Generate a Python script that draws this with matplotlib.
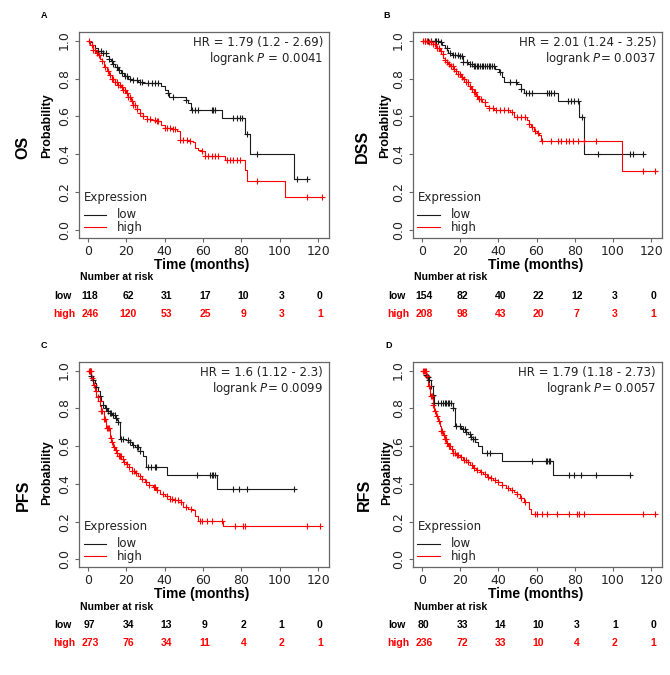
import numpy as np
import matplotlib
matplotlib.use("Agg")
import matplotlib.pyplot as plt
from matplotlib.transforms import blended_transform_factory

plt.rcParams['mathtext.fontset'] = 'dejavusans'

W, H = 670, 675

# ---------------- data ----------------
panel_letters = ["A", "B", "C", "D"]
endpoints = ["OS", "DSS", "PFS", "RFS"]
hr_lines = ["HR = 1.79 (1.2 - 2.69)", "HR = 2.01 (1.24 - 3.25)",
            "HR = 1.6 (1.12 - 2.3)", "HR = 1.79 (1.18 - 2.73)"]
p_lines = ["logrank $P$ = 0.0041", "logrank $P$= 0.0037",
           "logrank $P$= 0.0099", "logrank $P$= 0.0057"]
risk_times = [0, 20, 40, 60, 80, 100, 120]
x_ticks = [0, 20, 40, 60, 80, 100, 120]
y_ticks = [0.0, 0.2, 0.4, 0.6, 0.8, 1.0]
group_labels = ["low", "high"]

# Panel A (OS)
a_low_t = [0, 1, 2, 3.5, 5, 8, 9.5, 11, 12, 13, 14, 15.5, 17, 19, 21, 23, 26, 28.5, 38, 40, 41.5, 42.5,
           51, 52, 53.5, 70, 81.7, 84.5, 107.5, 114]
a_low_s = [1.0, 0.99, 0.975, 0.96, 0.945, 0.935, 0.92, 0.905, 0.89, 0.875, 0.86, 0.845, 0.83, 0.815, 0.80,
           0.79, 0.78, 0.775, 0.758, 0.742, 0.726, 0.705, 0.688, 0.67, 0.635, 0.59, 0.51, 0.405, 0.27, 0.27]
a_low_c = [5.4, 6.6, 8, 9.4, 11.1, 12.3, 13.2, 15, 16.3, 17.6, 19.3, 20.2, 21.9, 23.7, 25.4, 27.1, 28, 31.5,
           33.2, 34.9, 36.7, 41.9, 44.5, 51.1, 54.1, 55.8, 57.6, 64.5, 65.4, 66.3, 75.8, 77.6, 79.3, 80.2, 83,
           88, 108.9, 114]
a_high_t = [0, 1, 2.8, 4, 5.4, 6.2, 7.1, 8.5, 9.7, 11, 12.3, 14, 15.8, 17, 18.4, 19.7, 21, 22.3, 23.7, 25.4,
            27.1, 28.9, 30.6, 33, 35.8, 38, 40.2, 44, 46.3, 48, 52, 55, 55.8, 57.5, 59.3, 61, 71.5, 81.9, 82.8,
            102.8, 122]
a_high_s = [1.0, 0.977, 0.95, 0.937, 0.925, 0.905, 0.89, 0.862, 0.837, 0.818, 0.80, 0.783, 0.767, 0.753, 0.74,
            0.722, 0.705, 0.683, 0.66, 0.638, 0.617, 0.6, 0.588, 0.58, 0.574, 0.557, 0.54, 0.532, 0.525, 0.477,
            0.472, 0.468, 0.433, 0.425, 0.416, 0.39, 0.372, 0.32, 0.258, 0.175, 0.175]
a_high_c = [0.7, 1.9, 2.8, 3.7, 4.9, 5.9, 7.1, 8.9, 10.6, 11.5, 12.3, 13.2, 14.1, 15, 15.8, 16.7, 17.6, 18.4,
            19.3, 20.2, 21, 21.9, 22.8, 23.7, 24.5, 25.4, 27.1, 28.9, 30.6, 32.3, 35, 35.8, 36.7, 40.2, 41.4,
            42.8, 44.2, 45.4, 48, 49.7, 51.5, 53.2, 59.3, 61, 62.8, 64.5, 66.3, 68, 72.3, 74.1, 75.8, 77.6, 79.3,
            88, 114.4, 122]
a_risk_low = [118, 62, 31, 17, 10, 3, 0]
a_risk_high = [246, 120, 53, 25, 9, 3, 1]

# Panel B (DSS)
b_low_t = [0, 9.3, 10.5, 12, 13, 13.7, 15.5, 19.9, 21.7, 24.3, 27, 38.4, 40.2, 41.9, 42.8, 49.9, 51.6, 53.4,
           71.4, 82.1, 85.1, 115.6]
b_low_s = [1.0, 0.99, 0.975, 0.963, 0.95, 0.937, 0.923, 0.916, 0.885, 0.876, 0.867, 0.852, 0.836, 0.806, 0.78,
           0.771, 0.745, 0.724, 0.68, 0.596, 0.40, 0.40]
b_low_c = [1.4, 3.2, 4.9, 6.7, 7.6, 8.5, 10.2, 12.9, 14.6, 16.4, 17.3, 19, 19.9, 20.8, 21.7, 23.4, 25.2, 26.1,
           27, 27.8, 28.7, 29.6, 30.5, 31.4, 32.2, 33.1, 34, 34.9, 35.8, 36.7, 37.5, 41.1, 46.3, 49, 51.6, 54.3,
           56, 57.8, 65.7, 66.6, 67.5, 69.3, 76.3, 78.1, 79.8, 81.6, 84, 92.2, 108.9, 110.7, 115.6]
b_high_t = [0, 3.2, 5.8, 7.6, 9.3, 10.2, 11.1, 12, 12.9, 13.8, 14.6, 16.4, 17.7, 19, 20.3, 21.7, 23, 24.3, 25.6,
            27, 28.3, 29.6, 31.3, 33.1, 35, 37.5, 46.3, 48.1, 55.2, 56, 57.3, 58.7, 60, 61.3, 62.2, 104.5, 123]
b_high_s = [1.0, 0.99, 0.98, 0.963, 0.946, 0.928, 0.91, 0.897, 0.885, 0.876, 0.867, 0.85, 0.837, 0.823, 0.81,
            0.797, 0.78, 0.762, 0.745, 0.727, 0.71, 0.692, 0.675, 0.657, 0.647, 0.636, 0.622, 0.596, 0.584, 0.561,
            0.543, 0.526, 0.513, 0.50, 0.47, 0.311, 0.311]
b_high_c = [0.5, 1.5, 2.5, 3.5, 4.5, 6, 7, 8, 9, 10, 11, 12, 13, 14, 15, 16, 17, 18, 19, 20, 21, 22, 23, 24, 25,
            26, 27, 28, 29, 30, 31, 33, 35, 37, 39, 41, 43, 45, 47, 50, 52, 54, 56, 57.5, 59, 61, 63.1, 67.5, 71,
            72.8, 75.4, 77.2, 78.9, 81.6, 85.1, 91.3, 115.9, 122.1]
b_risk_low = [154, 82, 40, 22, 12, 3, 0]
b_risk_high = [208, 98, 43, 20, 7, 3, 1]

# Panel C (PFS)
c_low_t = [0, 1.7, 2.6, 3.5, 4.4, 5.2, 6.1, 7, 7.8, 8.7, 10, 11.3, 12.6, 14, 15, 15.7, 16.9, 20, 21.8, 23,
           24.4, 27, 28.8, 30.2, 41, 67.5, 108.5]
c_low_s = [1.0, 0.97, 0.952, 0.934, 0.912, 0.89, 0.865, 0.837, 0.818, 0.80, 0.788, 0.776, 0.763, 0.75, 0.738,
           0.727, 0.64, 0.63, 0.62, 0.607, 0.593, 0.575, 0.55, 0.488, 0.448, 0.374, 0.374]
c_low_c = [0.9, 1.7, 2.6, 4.4, 6.1, 7.8, 9.6, 10.5, 11.3, 12.2, 13.1, 13.9, 14.8, 15.7, 17.4, 18.3, 20.9, 21.8,
           23.5, 25.3, 26.2, 27, 31.4, 33.1, 34.9, 35.7, 56.7, 63.6, 64.5, 65.4, 66.3, 75.8, 78.5, 82.8, 107.2]
c_high_t = [0, 1.7, 2.6, 3.5, 4.4, 5.2, 6.1, 7, 8.2, 9.6, 11.3, 12.2, 13.1, 14, 14.8, 16, 17.4, 18.7, 20, 21.3,
            22.7, 24.4, 26.2, 27.9, 29.6, 31.8, 34, 35.7, 37.5, 40, 42.7, 45, 47.1, 49.7, 52, 54.1, 55.8, 57.5,
            70.3, 121]
c_high_s = [1.0, 0.96, 0.925, 0.89, 0.862, 0.837, 0.81, 0.785, 0.741, 0.698, 0.645, 0.62, 0.593, 0.58, 0.566,
            0.548, 0.531, 0.518, 0.505, 0.488, 0.47, 0.457, 0.444, 0.427, 0.409, 0.396, 0.383, 0.365, 0.348,
            0.335, 0.322, 0.313, 0.304, 0.278, 0.269, 0.26, 0.231, 0.203, 0.177, 0.177]
c_high_c = [0.5, 1, 1.5, 2, 3, 4, 5, 6, 7, 7.5, 8.5, 9, 10, 10.5, 11, 12, 12.5, 13.5, 14.5, 15, 16, 16.5, 17,
            18, 19, 20.5, 21.5, 23, 24, 25, 27, 28, 30, 32, 34.5, 35, 36, 39, 41, 43, 44, 45.5, 47, 48.5, 51,
            53.5, 58.4, 59.3, 61.9, 64.5, 69.7, 76.7, 81.1, 82, 114.2, 120.9]
c_risk_low = [97, 34, 13, 9, 2, 1, 0]
c_risk_high = [273, 76, 34, 11, 4, 2, 1]

# Panel D (RFS)
d_low_t = [0, 2.1, 3, 3.9, 4.8, 5.6, 6.5, 16.2, 17.1, 20.6, 21.5, 22.8, 24.1, 25.5, 26.8, 28, 29.4, 31.2,
           41.8, 68.7, 109.6]
d_low_s = [1.0, 0.977, 0.965, 0.951, 0.916, 0.872, 0.829, 0.80, 0.706, 0.697, 0.689, 0.676, 0.663, 0.65,
           0.636, 0.62, 0.601, 0.566, 0.523, 0.448, 0.448]
d_low_c = [2.1, 3, 3.9, 4.8, 5.6, 6.5, 8.3, 10, 10.9, 11.8, 12.7, 13.6, 14.4, 15.3, 16.2, 18, 19.7, 21.5, 22.4,
           23.3, 25, 25.9, 26.8, 27.7, 33.8, 35.6, 57.6, 64.7, 65.6, 66.4, 67.3, 77, 79.6, 83.2, 91.1, 108.7]
d_high_t = [0, 2.1, 3, 4.2, 5.6, 6.5, 7.4, 8.3, 9.2, 10, 10.9, 11.8, 12.7, 13.6, 14.9, 16.2, 18, 19.7, 21.5,
            23.3, 25, 26.8, 28.5, 30.3, 32.1, 34, 35.6, 37.4, 39.6, 41.8, 44, 46.2, 48, 49.7, 51.5, 53.2, 55.9,
            57.1, 122.8]
d_high_s = [1.0, 0.969, 0.916, 0.864, 0.82, 0.785, 0.76, 0.733, 0.707, 0.68, 0.658, 0.636, 0.618, 0.601, 0.583,
            0.566, 0.553, 0.54, 0.527, 0.514, 0.5, 0.483, 0.473, 0.463, 0.453, 0.438, 0.43, 0.423, 0.41, 0.395,
            0.38, 0.365, 0.357, 0.348, 0.326, 0.304, 0.269, 0.243, 0.243]
d_high_c = [0.5, 1, 1.5, 2, 2.5, 3.5, 4.5, 5, 6, 7, 8, 9, 10, 10.5, 11.5, 12, 12.5, 13, 14, 14.5, 15.5, 16.5,
            17.5, 18.5, 19, 20.5, 22, 23, 24, 26, 27.5, 29, 31, 33, 34.5, 36, 38, 40, 42, 45, 47, 50, 52, 54,
            59.4, 60.3, 62.9, 65.6, 70.8, 77, 81.4, 82.3, 84.9, 115.8, 121.9]
d_risk_low = [80, 33, 14, 10, 3, 1, 0]
d_risk_high = [236, 72, 33, 10, 4, 2, 1]

panels = [
    (a_low_t, a_low_s, a_low_c, a_high_t, a_high_s, a_high_c, a_risk_low, a_risk_high),
    (b_low_t, b_low_s, b_low_c, b_high_t, b_high_s, b_high_c, b_risk_low, b_risk_high),
    (c_low_t, c_low_s, c_low_c, c_high_t, c_high_s, c_high_c, c_risk_low, c_risk_high),
    (d_low_t, d_low_s, d_low_c, d_high_t, d_high_s, d_high_c, d_risk_low, d_risk_high),
]

# ---------------- layout (pixels) ----------------
axes_px = [(79, 32, 329, 238), (413, 32, 662, 238), (79, 362, 329, 567), (413, 362, 662, 567)]
letter_px = [(44, 16), (387, 16), (44, 346), (389, 346)]
endpoint_px = [(23, 147), (362, 146), (23, 495), (364, 495)]
prob_px = [(47, 126), (385, 126), (47, 473), (387, 473)]

LOW_C = "#1a1a1a"
HIGH_C = "#ff0000"
BOLD_FONT = ["Liberation Sans", "DejaVu Sans"]

fig = plt.figure(figsize=(W / 100, H / 100), dpi=100)


def fx(x):
    return x / W


def fy(y):
    return 1 - y / H


def cens_vals(t, s, c):
    t = np.asarray(t)
    s = np.asarray(s)
    idx = np.searchsorted(t, np.asarray(c), side="right") - 1
    idx = np.clip(idx, 0, len(s) - 1)
    return s[idx]


for i, (lt, ls, lc, ht, hs, hc, rl, rh) in enumerate(panels):
    x0, y0, x1, y1 = axes_px[i]
    ax = fig.add_axes([fx(x0), fy(y1), (x1 - x0) / W, (y1 - y0) / H])
    ax.set_xlim(-4.7, 125.7)
    ax.set_ylim(-0.04, 1.045)

    ax.step(lt, ls, where="post", color=LOW_C, lw=0.8, label=group_labels[0], zorder=3)
    ax.step(ht, hs, where="post", color=HIGH_C, lw=0.8, label=group_labels[1], zorder=3)
    ax.plot(lc, cens_vals(lt, ls, lc), ls="none", marker="+", ms=4.5, mew=0.8, color=LOW_C, zorder=4)
    ax.plot(hc, cens_vals(ht, hs, hc), ls="none", marker="+", ms=4.5, mew=0.8, color=HIGH_C, zorder=4)

    for sp in ax.spines.values():
        sp.set_color("#666666")
        sp.set_linewidth(0.9)
    ax.set_xticks(x_ticks)
    ax.set_yticks(y_ticks)
    ax.set_yticklabels([f"{v:.1f}" for v in y_ticks])
    ax.tick_params(axis="both", direction="out", length=3, width=0.8, color="#666666",
                   labelsize=9, labelcolor="#222222")
    ax.tick_params(axis="x", pad=2)
    ax.tick_params(axis="y", pad=3, labelrotation=90)
    for lab in ax.get_yticklabels():
        lab.set_va("center")

    # HR / p text
    ax.text(0.976, 0.947, hr_lines[i], transform=ax.transAxes, ha="right", va="center",
            fontsize=8.5, color="#222222")
    ax.text(0.976, 0.869, p_lines[i], transform=ax.transAxes, ha="right", va="center",
            fontsize=8.5, color="#222222")

    # legend
    leg = ax.legend(loc="lower left", bbox_to_anchor=(0.018, 0.02), frameon=False,
                    title="Expression", fontsize=8.5, title_fontsize=8.5,
                    handlelength=1.9, handletextpad=0.95, labelspacing=-0.05,
                    borderpad=0.0, borderaxespad=0.0, handleheight=0.6)
    leg._legend_box.align = "left"
    leg._legend_box.sep = 3
    for t in leg.get_texts():
        t.set_color("#222222")
    leg.get_title().set_color("#222222")

    # axis labels
    fig.text(fx((x0 + x1) / 2 - 2), fy(y1 + 27), "Time (months)", ha="center", va="center",
             fontsize=10, fontweight="bold", family=BOLD_FONT)
    fig.text(fx(prob_px[i][0]), fy(prob_px[i][1]), "Probability", rotation=90, ha="center",
             va="center", fontsize=9, fontweight="bold", family=BOLD_FONT)
    fig.text(fx(endpoint_px[i][0]), fy(endpoint_px[i][1]), endpoints[i], rotation=90, ha="center",
             va="center", fontsize=11.5, fontweight="bold", family=BOLD_FONT)
    fig.text(fx(letter_px[i][0]), fy(letter_px[i][1]), panel_letters[i], ha="center", va="center",
             fontsize=6.5, fontweight="bold", family=BOLD_FONT)

    # number at risk table
    fig.text(fx(x0 + 1), fy(y1 + 39.5), "Number at risk", ha="left", va="center",
             fontsize=7.5, fontweight="bold", family=BOLD_FONT)
    trans = blended_transform_factory(ax.transData, fig.transFigure)
    row_low_y = fy(y1 + 58)
    row_high_y = fy(y1 + 76)
    fig.text(fx(x0 - 25), row_low_y, group_labels[0], ha="left", va="center", fontsize=7.5,
             fontweight="bold", family=BOLD_FONT, color="black")
    fig.text(fx(x0 - 26), row_high_y, group_labels[1], ha="left", va="center", fontsize=7.5,
             fontweight="bold", family=BOLD_FONT, color=HIGH_C)
    for tt, n1, n2 in zip(risk_times, rl, rh):
        ax.text(tt + 1, row_low_y, str(n1), transform=trans, ha="center", va="center", fontsize=7.5,
                fontweight="bold", family=BOLD_FONT, color="black", clip_on=False)
        ax.text(tt + 1, row_high_y, str(n2), transform=trans, ha="center", va="center", fontsize=7.5,
                fontweight="bold", family=BOLD_FONT, color=HIGH_C, clip_on=False)

fig.savefig("out.png", dpi=100, facecolor="white")
